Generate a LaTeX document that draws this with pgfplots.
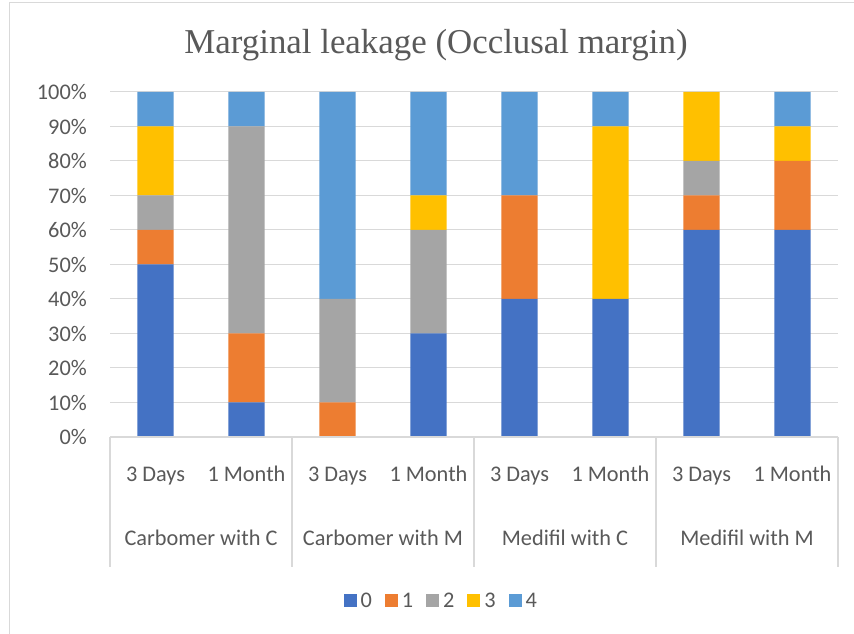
\documentclass[border=0pt]{standalone}
\usepackage{fontspec}
\setmainfont{Carlito}
\newfontfamily\titlefont{Liberation Serif}
\usepackage{pgfplots}
\usepackage{pgfplotstable}
\pgfplotsset{compat=1.18}

\definecolor{c0}{HTML}{4472C4}
\definecolor{c1}{HTML}{ED7D31}
\definecolor{c2}{HTML}{A5A5A5}
\definecolor{c3}{HTML}{FFC000}
\definecolor{c4}{HTML}{5B9BD5}
\definecolor{txt}{HTML}{595959}
\definecolor{gridc}{HTML}{D9D9D9}

% share (%) of each score, per group and time
\pgfplotstableread{
x s0 s1 s2 s3 s4
0 50 10 10 20 10
1 10 20 60 0  10
2 0  10 30 0  60
3 30 0  30 10 30
4 40 30 0  0  30
5 40 0  0  50 10
6 60 10 10 20 0
7 60 20 0  10 10
}\leak

\begin{document}
\begin{tikzpicture}[x=1bp,y=1bp]
\useasboundingbox (0,0) rectangle (854,634);
\fill[white] (0,0) rectangle (854,634);
\draw[gridc, line width=1bp] (9.5,0) -- (9.5,631) -- (854,631);
\node[font=\titlefont\fontsize{35}{40}\selectfont, text=txt, anchor=base] at (436,580) {Marginal leakage (Occlusal margin)};
\begin{axis}[
  at={(110bp,197bp)}, anchor=south west,
  width=728bp, height=345bp, scale only axis,
  ybar stacked, bar width=0.4,
  xmin=-0.5, xmax=7.5, ymin=0, ymax=100,
  axis line style={draw=none},
  xtick={0,...,7},
  xticklabels={3 Days,1 Month,3 Days,1 Month,3 Days,1 Month,3 Days,1 Month},
  extra x ticks={0.5,2.5,4.5,6.5},
  extra x tick labels={Carbomer with C,Carbomer with M,Medifil with C,Medifil with M},
  extra x tick style={grid=none, xticklabel style={yshift=-64bp}},
  ytick={0,10,...,100},
  yticklabels={0\%,10\%,20\%,30\%,40\%,50\%,60\%,70\%,80\%,90\%,100\%},
  major tick length=0,
  tick label style={font=\fontsize{22.4}{26}\selectfont, text=txt},
  xticklabel style={anchor=base, yshift=-45bp},
  yticklabel style={anchor=east, inner sep=0pt, xshift=-23bp},
  ymajorgrids, grid style={gridc, line width=1bp},
  legend columns=-1,
  legend style={at={(0.455,-0.475)}, anchor=center, draw=none, fill=none,
    font=\fontsize{22.4}{26}\selectfont, text=txt,
    /tikz/every odd column/.append style={column sep=2bp},
    /tikz/every even column/.append style={column sep=11bp}},
  mybar/.style={fill=#1, draw=none,
    legend image code/.code={\fill (0bp,-6.5bp) rectangle (13bp,6.5bp);}},
]
\addplot[mybar=c0] table[x=x, y=s0] {\leak};
\addplot[mybar=c1] table[x=x, y=s1] {\leak};
\addplot[mybar=c2] table[x=x, y=s2] {\leak};
\addplot[mybar=c3] table[x=x, y=s3] {\leak};
\addplot[mybar=c4] table[x=x, y=s4] {\leak};
\legend{0,1,2,3,4}
\end{axis}
\draw[gridc, line width=1.2bp] (110,197) -- (838,197);
\foreach \x in {110,292,474,656,838} \draw[gridc, line width=1.2bp] (\x,197) -- (\x,67);
\end{tikzpicture}
\end{document}
